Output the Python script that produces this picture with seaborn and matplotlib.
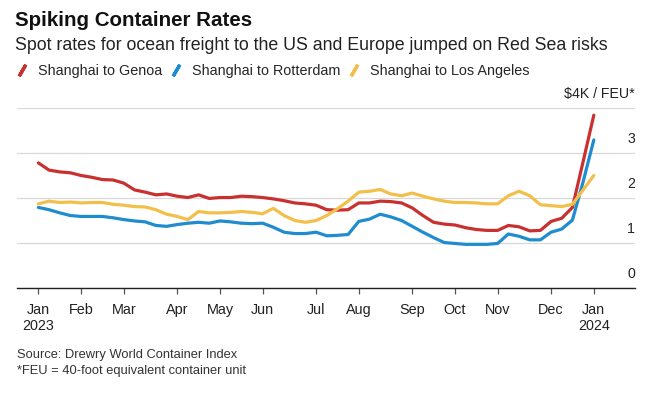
import pandas as pd
import numpy as np
import matplotlib
matplotlib.use('Agg')
import matplotlib.pyplot as plt
from matplotlib.lines import Line2D
import seaborn as sns

# Weekly Drewry WCI readings, thousands of USD per FEU
dates = pd.date_range('2023-01-05', periods=53, freq='7D')

genoa = [2.78, 2.62, 2.58, 2.56, 2.50, 2.46, 2.41, 2.40, 2.33, 2.18,
         2.13, 2.07, 2.09, 2.04, 2.01, 2.07, 1.99, 2.01, 2.01, 2.04,
         2.03, 2.01, 1.98, 1.94, 1.89, 1.87, 1.84, 1.74, 1.73, 1.74,
         1.89, 1.89, 1.93, 1.92, 1.89, 1.78, 1.61, 1.46, 1.42, 1.40,
         1.34, 1.30, 1.28, 1.28, 1.39, 1.36, 1.27, 1.28, 1.48, 1.55,
         1.79, 2.81, 3.84]

rotterdam = [1.79, 1.74, 1.67, 1.61, 1.59, 1.59, 1.59, 1.56, 1.52, 1.49,
             1.47, 1.39, 1.37, 1.41, 1.44, 1.46, 1.44, 1.49, 1.47, 1.44,
             1.43, 1.44, 1.35, 1.24, 1.21, 1.21, 1.24, 1.16, 1.17, 1.19,
             1.48, 1.53, 1.64, 1.58, 1.50, 1.37, 1.24, 1.12, 1.01, 0.99,
             0.97, 0.97, 0.97, 0.99, 1.20, 1.15, 1.07, 1.07, 1.24, 1.31,
             1.51, 2.36, 3.29]

los_angeles = [1.87, 1.93, 1.90, 1.91, 1.89, 1.90, 1.90, 1.86, 1.84, 1.81,
               1.80, 1.74, 1.64, 1.59, 1.52, 1.70, 1.67, 1.67, 1.68, 1.70,
               1.68, 1.65, 1.77, 1.61, 1.50, 1.46, 1.50, 1.61, 1.76, 1.93,
               2.13, 2.15, 2.19, 2.09, 2.05, 2.11, 2.04, 1.98, 1.93, 1.90,
               1.90, 1.89, 1.87, 1.87, 2.05, 2.15, 2.05, 1.85, 1.83, 1.81,
               1.86, 2.18, 2.50]

routes = ['Shanghai to Genoa', 'Shanghai to Rotterdam', 'Shanghai to Los Angeles']
colors = ['#c8312f', '#1f8ccf', '#f2c04a']
y_ticks = [0, 1, 2, 3, 4]
y_labels = ['0', '1', '2', '3', '$4K / FEU*']

df = pd.DataFrame({
    'date': list(dates) * 3,
    'rate': genoa + rotterdam + los_angeles,
    'route': np.repeat(routes, len(dates)),
})

sns.set_style('white')
plt.rcParams['font.family'] = ['Liberation Sans', 'DejaVu Sans']

fig = plt.figure(figsize=(6.68, 3.93), dpi=100)
ax = fig.add_axes([17 / 668, 1 - 288 / 393, (635 - 17) / 668, 180 / 393])

sns.lineplot(data=df, x='date', y='rate', hue='route', hue_order=routes,
             palette=colors, linewidth=2.3, ax=ax, legend=False)

# axes
ax.set_xlim(pd.Timestamp('2022-12-22'), pd.Timestamp('2024-01-31'))
ax.set_ylim(0, 4.0)
ax.set_xlabel('')
ax.set_ylabel('')
for s in ['top', 'right', 'left']:
    ax.spines[s].set_visible(False)
ax.spines['bottom'].set_color('#222222')
ax.spines['bottom'].set_linewidth(1.0)

ax.set_yticks(y_ticks)
ax.tick_params(axis='y', length=0, labelleft=False)
ax.grid(axis='y', color='#d8d8d8', linewidth=0.9)
ax.grid(axis='x', visible=False)
for v, lab in zip(y_ticks, y_labels):
    ax.annotate(lab, xy=(1.0, v), xycoords=ax.get_yaxis_transform(),
                xytext=(0, 5), textcoords='offset points',
                ha='right', va='bottom', fontsize=10.2, color='#222222')

# month ticks sit on the first weekly reading of each month
tick_dates = [d for d in dates if d.day <= 7]
tick_labels = [d.strftime('%b') + ('\n' + str(d.year) if d.month == 1 else '')
               for d in tick_dates]
ax.set_xticks(tick_dates)
ax.set_xticklabels(tick_labels, fontsize=10.4, color='#222222', linespacing=1.2,
                   va='top')
ax.tick_params(axis='x', length=4, width=0.9, color='#555555', pad=6.5,
               direction='out', bottom=True)

# titles
fig.text(15 / 668, 1 - 20 / 393, 'Spiking Container Rates', fontsize=14.8,
         fontweight='bold', color='#111111', va='center', ha='left')
fig.text(15 / 668, 1 - 46 / 393,
         'Spot rates for ocean freight to the US and Europe jumped on Red Sea risks',
         fontsize=12.8, color='#222222', va='center', ha='left')

handles = [Line2D([], [], linestyle='none', marker=(2, 2, -30), markersize=9.5,
                  markeredgewidth=2.4, color=c) for c in colors]
fig.legend(handles, routes, loc='center left', bbox_to_anchor=(16 / 668, 1 - 71 / 393),
           ncol=3, frameon=False, fontsize=10.4, handlelength=0.8,
           handletextpad=0.7, columnspacing=0.55, borderaxespad=0, borderpad=0)

fig.text(17 / 668, 1 - 355 / 393, 'Source: Drewry World Container Index',
         fontsize=9.3, color='#333333', va='center', ha='left')
fig.text(17 / 668, 1 - 371 / 393, '*FEU = 40-foot equivalent container unit',
         fontsize=9.3, color='#333333', va='center', ha='left')

fig.savefig('out.png', dpi=100)
